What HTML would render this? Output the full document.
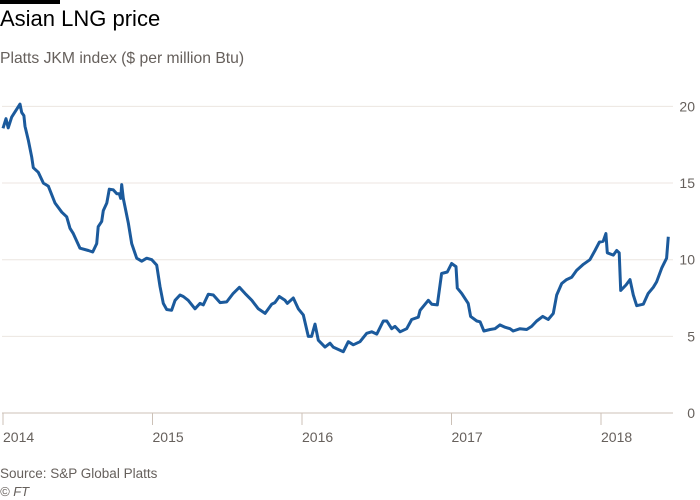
<!DOCTYPE html>
<html><head><meta charset="utf-8"><style>
body{margin:0;background:#fff;width:700px;height:500px;overflow:hidden;font-family:"Liberation Sans",sans-serif}
svg{position:absolute;left:0;top:0}
</style></head><body>
<svg width="700" height="500">
<rect x="0" y="0" width="60" height="4" fill="#000"/>
<text x="0" y="26" font-size="22" fill="#000">Asian LNG price</text>
<text x="0" y="63" font-size="15.7" fill="#66605c">Platts JKM index ($ per million Btu)</text>
<g id="grid"></g><g id="xaxis"></g>
<path id="line" fill="none" stroke="#1b5a9c" stroke-width="3" stroke-linejoin="round"/>
<text x="0" y="478" font-size="13.5" fill="#66605c">Source: S&amp;P Global Platts</text>
<text x="0" y="496" font-size="13" font-style="italic" fill="#66605c">© FT</text>
</svg>
<script>
const yTicks=[0,5,10,15,20];
const xYears=[2014,2015,2016,2017,2018];
const dates=[0,0.02,0.035,0.058,0.114,0.125,0.14,0.147,0.169,0.192,0.203,0.236,0.27,0.303,0.348,0.393,0.426,0.448,0.47,0.515,0.571,0.6,0.627,0.637,0.66,0.671,0.694,0.711,0.738,0.761,0.778,0.787,0.794,0.805,0.838,0.861,0.894,0.928,0.961,0.995,1.028,1.05,1.072,1.095,1.128,1.151,1.184,1.206,1.239,1.284,1.318,1.34,1.373,1.407,1.452,1.496,1.54,1.581,1.619,1.664,1.708,1.753,1.797,1.819,1.848,1.886,1.902,1.942,1.975,2.009,2.042,2.064,2.087,2.109,2.154,2.187,2.209,2.276,2.31,2.343,2.388,2.433,2.466,2.5,2.544,2.567,2.6,2.622,2.656,2.7,2.734,2.778,2.79,2.845,2.868,2.905,2.934,2.972,3.001,3.03,3.039,3.068,3.112,3.128,3.169,3.191,3.217,3.258,3.291,3.324,3.358,3.391,3.413,3.458,3.503,3.536,3.57,3.61,3.647,3.681,3.704,3.737,3.77,3.804,3.837,3.882,3.926,3.96,3.989,4.015,4.033,4.042,4.082,4.105,4.122,4.132,4.167,4.194,4.216,4.239,4.283,4.316,4.35,4.372,4.406,4.439,4.45];
const prices=[18.57,19.2,18.6,19.3,20.15,19.6,19.4,18.7,17.8,16.7,16.0,15.7,15.0,14.8,13.7,13.1,12.8,12.05,11.7,10.75,10.6,10.5,11.05,12.15,12.5,13.2,13.7,14.6,14.55,14.3,14.3,14.0,14.9,14.0,12.4,11.05,10.1,9.9,10.1,10.0,9.65,8.25,7.15,6.75,6.7,7.35,7.7,7.6,7.35,6.8,7.15,7.05,7.75,7.7,7.2,7.25,7.8,8.2,7.8,7.35,6.8,6.5,7.1,7.2,7.6,7.35,7.15,7.5,6.8,6.4,5.0,5.0,5.8,4.75,4.3,4.55,4.3,4.0,4.65,4.45,4.65,5.2,5.3,5.15,6.0,6.0,5.5,5.65,5.3,5.5,6.1,6.25,6.7,7.35,7.1,7.05,9.1,9.2,9.75,9.55,8.15,7.8,7.15,6.3,6.0,5.95,5.35,5.45,5.5,5.75,5.6,5.5,5.35,5.5,5.45,5.65,6.0,6.3,6.1,6.5,7.7,8.45,8.7,8.85,9.3,9.7,10.0,10.6,11.15,11.2,11.7,10.45,10.3,10.6,10.45,8.0,8.35,8.7,7.7,7.0,7.1,7.8,8.2,8.55,9.45,10.1,11.5];
const X=t=>3+149.5*t, Y=v=>413-15.33*v;
const NS="http://www.w3.org/2000/svg";
const grid=document.getElementById('grid'), xa=document.getElementById('xaxis');
yTicks.forEach(v=>{
  const l=document.createElementNS(NS,'line');
  l.setAttribute('x1',2);l.setAttribute('x2',673);l.setAttribute('y1',Y(v));l.setAttribute('y2',Y(v));
  l.setAttribute('stroke',v===0?'#ccc1b7':'#ece6e0');l.setAttribute('stroke-width',1);
  
  
  grid.appendChild(l);
  const t=document.createElementNS(NS,'text');
  t.setAttribute('x',695);t.setAttribute('y',Y(v)+5);t.setAttribute('text-anchor','end');
  t.setAttribute('font-size',14);t.setAttribute('fill','#66605c');t.textContent=v;
  
  
  grid.appendChild(t);
});
xYears.forEach(yr=>{
  const x=X(yr-2014);
  const l=document.createElementNS(NS,'line');
  l.setAttribute('x1',x);l.setAttribute('x2',x);l.setAttribute('y1',413);l.setAttribute('y2',425);
  l.setAttribute('stroke','#ccc1b7');
  
  
  xa.appendChild(l);
  const t=document.createElementNS(NS,'text');
  t.setAttribute('x',x);t.setAttribute('y',442);t.setAttribute('font-size',14);t.setAttribute('fill','#66605c');
  t.textContent=yr;
  
  
  xa.appendChild(t);
});
document.getElementById('line').setAttribute('d',dates.map((d,i)=>(i?'L':'M')+X(d).toFixed(1)+','+Y(prices[i]).toFixed(1)).join(''));
</script>
</body></html>
